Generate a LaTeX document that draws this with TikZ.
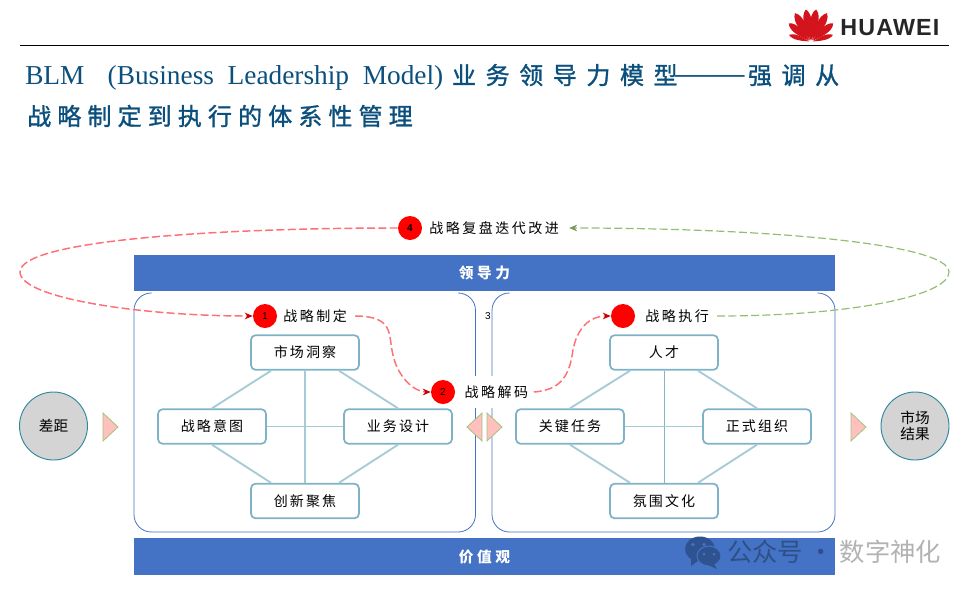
\documentclass[tikz,border=0pt]{standalone}
\usepackage{fontspec}
\setmainfont{Liberation Serif}
\newfontfamily\cjk[LetterSpace=18]{Noto Sans CJK SC}
\newfontfamily\cjkelem[LetterSpace=15]{Noto Sans CJK SC}
\newfontfamily\cjkbar[LetterSpace=24]{Noto Sans CJK SC}
\newfontfamily\cjkplain{Noto Sans CJK SC}
\newfontfamily\cjktitle[LetterSpace=40,FakeBold=1.2]{Noto Sans CJK SC}
\newfontfamily\cjktitleb[LetterSpace=25.5,FakeBold=1.2]{Noto Sans CJK SC}
\newfontfamily\cjkdash{Liberation Serif}
\newfontfamily\sans{Liberation Sans}
\newfontfamily\logofont[LetterSpace=5]{Liberation Sans}
\usetikzlibrary{arrows.meta,calc}
\definecolor{barblue}{HTML}{4472C4}
\definecolor{titleblue}{HTML}{0B4F7D}
\definecolor{boxedge}{HTML}{7FB2C6}
\definecolor{linkc}{HTML}{A5CBD7}
\definecolor{tealedge}{HTML}{2F87A0}
\definecolor{redline}{HTML}{FF6F73}
\definecolor{greenline}{HTML}{93BE72}
\definecolor{tripink}{HTML}{FFC0BE}
\definecolor{triedge}{HTML}{A3C27C}
\definecolor{logored}{HTML}{D3141C}
\definecolor{wmblue}{HTML}{2F5291}
\tikzset{
  x=.75pt,y=-.75pt,
  bar/.style={fill=barblue,draw=none,minimum width=525.75pt,minimum height=27pt,inner sep=0pt,text=white,font=\fontsize{11pt}{12pt}\cjkbar\bfseries},
  frame/.style={draw=barblue,line width=.6pt,rounded corners=13pt},
  elem/.style={draw=boxedge,line width=1.3pt,fill=white,rounded corners=3.5pt,minimum width=81pt,minimum height=26pt,inner sep=0pt,font=\fontsize{10.5pt}{12pt}\cjkelem},
  link/.style={draw=linkc,line width=1.4pt},
  thin link/.style={draw=linkc!70!tealedge,line width=.7pt},
  dot/.style={circle,fill=red,draw=none,minimum size=18pt,inner sep=0pt,font=\fontsize{7.5pt}{8pt}\sans,text=black},
  stage/.style={inner sep=0pt,font=\fontsize{10.5pt}{12pt}\cjk},
  gapnode/.style={circle,fill=black!17,draw=tealedge,line width=.7pt,minimum size=51pt,inner sep=0pt,align=center,font=\fontsize{11pt}{12.5pt}\cjkplain},
  redflow/.style={draw=redline,line width=1.1pt,dash pattern=on 6pt off 2.5pt,-{Stealth[length=6pt,width=5pt,red!80!black]}},
  greenflow/.style={draw=greenline,line width=.9pt,dash pattern=on 6pt off 2.5pt,-{Stealth[length=6pt,width=5pt,greenline!80!black]}},
  tri/.style={draw=triedge,fill=tripink,line width=.6pt},
}
\begin{document}
\begin{tikzpicture}
\useasboundingbox (0,0) rectangle (971,590);
% header
\coordinate (ruleL) at (20,45); \coordinate (ruleR) at (949,45);
\draw[line width=.7pt] (ruleL) -- (ruleR);
\foreach \a/\l/\w in {-9/33/5.5,9/33/5.5,-29/33/5.5,29/33/5.5,-50/29/4.8,50/29/4.8,-72/23/3.2,72/23/3.2}{
  \begin{scope}[shift={(811,42)},rotate=\a]
    \fill[logored] (0,-2) .. controls (-\w*.5,-\l*.35) and (-\w*1.35,-\l*.8) .. (0,-\l) .. controls (\w*1.35,-\l*.8) and (\w*.5,-\l*.35) .. (0,-2) -- cycle;
  \end{scope}
}
\node[anchor=west,inner sep=0pt,font=\fontsize{17.5pt}{18pt}\logofont\bfseries,text=black!85] (logo) at (840,28) {HUAWEI};
\node[anchor=west,inner sep=0pt,text=titleblue,font=\fontsize{20.5pt}{22pt}\selectfont] (t1) at (25,77) {BLM\hspace{.85em}(Business\hspace{.5em}Leadership\hspace{.5em}Model)\hspace{.32em}{\fontsize{18pt}{22pt}\cjktitle 业务领导力模型{\cjkdash\hspace{-.1em}\fontsize{26pt}{22pt}\selectfont ——\hspace{.1em}}强调从}};
\node[anchor=west,inner sep=0pt,text=titleblue,font=\fontsize{18pt}{22pt}\cjktitleb] (t2) at (27,116) {战略制定到执行的体系性管理};
% bars
\node[bar] (lead) at (484.5,273) {领导力};
\node[bar,minimum height=27.75pt] (value) at (484.5,556.5) {价值观};
% frames
\draw[frame] (151.5,293) -- (134,293) -- (134,532) -- (475.5,532) -- (475.5,293) -- (458,293);
\draw[frame] (509.5,293) -- (492,293) -- (492,532) -- (835,532) -- (835,293) -- (817.5,293);
% elements left
\node[elem] (a1) at (305,352.5) {市场洞察};
\node[elem] (a2) at (212,426.5) {战略意图};
\node[elem] (a3) at (398,426.5) {业务设计};
\node[elem] (a4) at (305,501) {创新聚焦};
\draw[link] ([xshift=-25.5pt]a1.south) -- (a2.north);
\draw[link] ([xshift=25.5pt]a1.south) -- (a3.north);
\draw[link] ([xshift=-25.5pt]a4.north) -- (a2.south);
\draw[link] ([xshift=25.5pt]a4.north) -- (a3.south);
\draw[link] (a1.south) -- (a4.north);
\draw[link] (a2.east) -- (a3.west);
% elements right
\node[elem] (b1) at (664,352.5) {人才};
\node[elem] (b2) at (570,426.5) {关键任务};
\node[elem] (b3) at (757,426.5) {正式组织};
\node[elem] (b4) at (664,501) {氛围文化};
\draw[link] ([xshift=-25.5pt]b1.south) -- (b2.north);
\draw[link] ([xshift=25.5pt]b1.south) -- (b3.north);
\draw[link] ([xshift=-25.5pt]b4.north) -- (b2.south);
\draw[link] ([xshift=25.5pt]b4.north) -- (b3.south);
\draw[thin link] (b1.south) -- (b4.north);
\draw[link] (b2.east) -- (b3.west);
% stages
\node[dot] (c1) at (265,316) {1};
\node[stage,anchor=west] (s1) at (283,316) {战略制定};
\node[stage,anchor=west,fill=white,inner xsep=7pt,inner ysep=7pt] (s2) at (455,392) {战略解码};
\node[dot] (c2) at (443,392) {2};
\node[inner sep=0pt,font=\fontsize{7.5pt}{8pt}\sans] (n3) at (488,316) {3};
\node[dot] (c3) at (623,316) {};
\node[stage,anchor=west] (s3) at (645,316) {战略执行};
\node[dot] (c4) at (410,228) {\bfseries 4};
\node[stage,anchor=west] (s4) at (429,228) {战略复盘迭代改进};
% flows
\draw[redflow] (c4.west) .. controls (220,228) and (20,240) .. (20,272) .. controls (20,298) and (140,316) .. (c1.west);
\draw[redflow] ([xshift=6pt]s1.east) .. controls (395,316) and (388,335) .. (393,355) .. controls (398,378) and (415,392) .. (c2.west);
\draw[redflow] ([xshift=-3pt]s2.east) .. controls (565,390) and (570,370) .. (573,350) .. controls (577,328) and (590,316) .. (c3.west);
\draw[greenflow] ([xshift=6pt]s3.east) .. controls (850,316) and (949,296) .. (949,272) .. controls (949,243) and (760,228) .. ([xshift=7.5pt]s4.east);
% arrows and end nodes
\draw[tri] (103,413) -- (118,427) -- (103,441) -- cycle;
\draw[tri] (482,413) -- (467,427) -- (482,441) -- cycle;
\draw[tri] (487,413) -- (502,427) -- (487,441) -- cycle;
\draw[tri] (851,413) -- (866,427) -- (851,441) -- cycle;
\node[gapnode] (gap) at (53.5,426) {差距};
\node[gapnode] (res) at (915,426) {市场\\结果};
% watermark
\fill[wmblue] (700,549) ellipse [x radius=15,y radius=12.5];
\fill[wmblue] (691,558) -- (691,566) -- (699,560) -- cycle;
\fill[barblue] (693,544.5) circle [radius=1.8] (704,544.5) circle [radius=1.8];
\filldraw[fill=wmblue,draw=barblue,line width=.8pt] (709,556) ellipse [x radius=12,y radius=10];
\fill[wmblue] (714,564) -- (717,569) -- (708,565) -- cycle;
\fill[barblue] (704,554) circle [radius=1.5] (714,554) circle [radius=1.5];
\node[anchor=west,inner sep=0pt,opacity=.3,font=\fontsize{19pt}{21pt}\cjkplain] (wm) at (727,551.5) {公众号 · 数字神化};
\end{tikzpicture}
\end{document}
